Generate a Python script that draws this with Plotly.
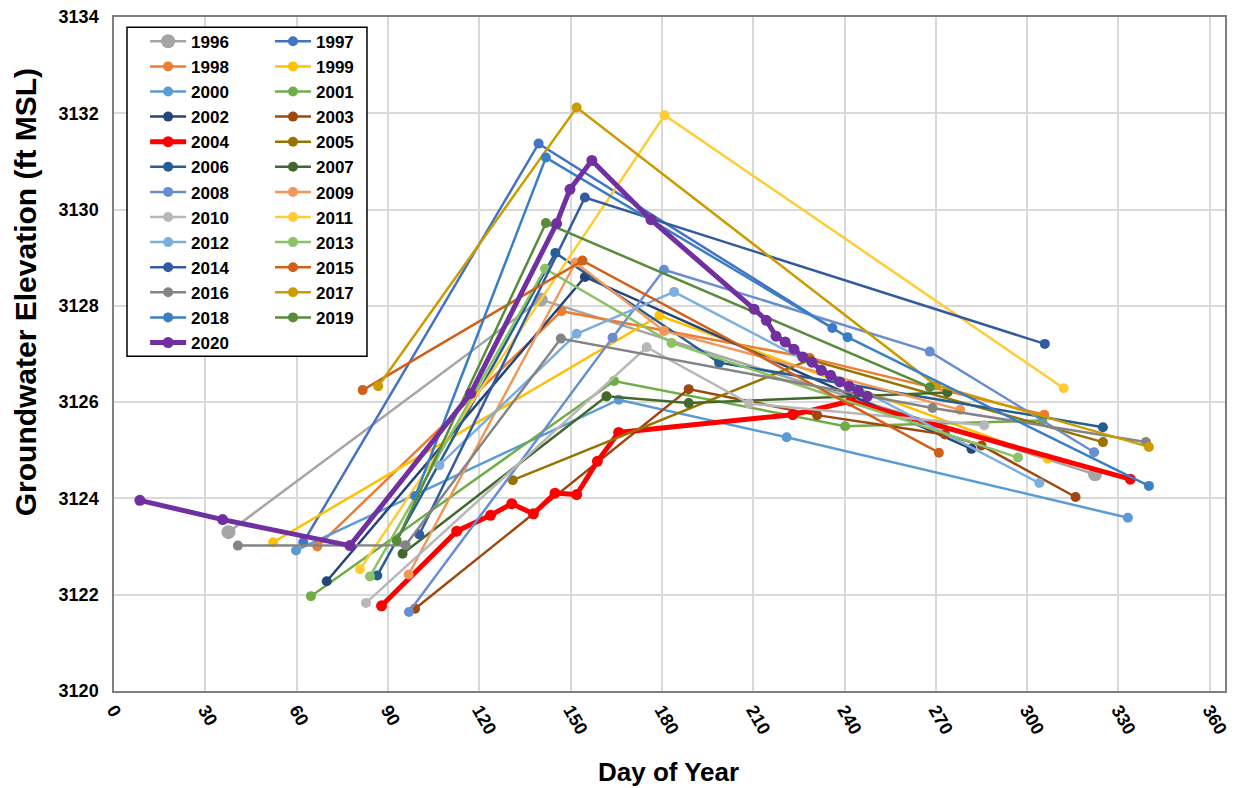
import plotly.graph_objects as go

# groundwater elevation (ft MSL) by day of year, one pair of lists per year
day_1996 = [37.6, 140.2, 322.3]
elev_1996 = [3123.30, 3128.13, 3124.50]
day_1997 = [62.2, 139.5, 236.0]
elev_1997 = [3123.09, 3131.37, 3127.54]
day_1998 = [66.8, 147.0, 228.6, 305.6]
elev_1998 = [3123.00, 3127.89, 3126.92, 3125.74]
day_1999 = [52.3, 179.2, 306.7]
elev_1999 = [3123.09, 3127.80, 3124.83]
day_2000 = [59.8, 165.8, 221.0, 333.1]
elev_2000 = [3122.92, 3126.05, 3125.27, 3123.60]
day_2001 = [64.7, 164.3, 240.2, 305.0]
elev_2001 = [3121.97, 3126.44, 3125.50, 3125.62]
day_2002 = [69.9, 154.7, 281.7]
elev_2002 = [3122.28, 3128.60, 3125.03]
day_2003 = [98.9, 188.8, 231.0, 273.0, 285.0, 315.9]
elev_2003 = [3121.71, 3126.27, 3125.73, 3125.33, 3125.10, 3124.03]
day_2004 = [87.9, 112.6, 123.7, 130.7, 137.8, 144.9, 152.0, 158.8, 165.8, 223.0, 242.0, 333.9]
elev_2004 = [3121.77, 3123.32, 3123.65, 3123.89, 3123.68, 3124.11, 3124.08, 3124.77,
             3125.37, 3125.74, 3126.02, 3124.40]
day_2005 = [131.0, 228.6, 324.9]
elev_2005 = [3124.38, 3126.88, 3125.17]
day_2006 = [86.5, 145.0, 198.8, 324.9]
elev_2006 = [3122.40, 3129.10, 3126.82, 3125.48]
day_2007 = [94.8, 161.8, 188.8, 273.8]
elev_2007 = [3122.85, 3126.12, 3125.98, 3126.20]
day_2008 = [96.9, 163.8, 180.7, 268.0, 322.0]
elev_2008 = [3121.64, 3127.34, 3128.75, 3127.05, 3124.96]
day_2009 = [96.8, 151.6, 180.7, 278.0]
elev_2009 = [3122.42, 3128.90, 3127.48, 3125.84]
day_2010 = [82.8, 175.0, 208.7, 285.9]
elev_2010 = [3121.83, 3127.14, 3125.97, 3125.52]
day_2011 = [80.8, 180.9, 312.0]
elev_2011 = [3122.53, 3131.96, 3126.29]
day_2012 = [106.9, 152.0, 184.0, 304.0]
elev_2012 = [3124.69, 3127.42, 3128.29, 3124.32]
day_2013 = [84.1, 141.6, 183.2, 297.0]
elev_2013 = [3122.38, 3128.77, 3127.23, 3124.85]
day_2014 = [100.3, 154.7, 305.8]
elev_2014 = [3123.25, 3130.25, 3127.21]
day_2015 = [81.7, 153.9, 271.0]
elev_2015 = [3126.25, 3128.94, 3124.95]
day_2016 = [40.7, 95.8, 146.8, 268.9, 339.0]
elev_2016 = [3123.02, 3123.03, 3127.32, 3125.88, 3125.17]
day_2017 = [86.8, 152.0, 270.0, 340.0]
elev_2017 = [3126.33, 3132.12, 3126.35, 3125.07]
day_2018 = [99.0, 141.9, 241.0, 340.0]
elev_2018 = [3124.05, 3131.08, 3127.35, 3124.26]
day_2019 = [92.9, 141.9, 268.0]
elev_2019 = [3123.12, 3129.72, 3126.31]
day_2020 = [8.5, 35.7, 77.5, 117.2, 145.4, 149.8, 157.0, 176.4, 210.3, 214.3, 217.5,
            220.5, 223.4, 226.3, 229.3, 232.4, 235.4, 238.5, 241.5, 244.5, 247.5]
elev_2020 = [3123.96, 3123.56, 3123.02, 3126.18, 3129.71, 3130.42, 3131.02, 3129.79,
             3127.93, 3127.70, 3127.37, 3127.25, 3127.10, 3126.94, 3126.83, 3126.66,
             3126.56, 3126.42, 3126.33, 3126.23, 3126.12]

years = ['1996', '1997', '1998', '1999', '2000', '2001', '2002', '2003', '2004',
         '2005', '2006', '2007', '2008', '2009', '2010', '2011', '2012', '2013',
         '2014', '2015', '2016', '2017', '2018', '2019', '2020']
colors = ['#A5A5A5', '#4472C4', '#ED7D31', '#FFC000', '#5B9BD5', '#70AD47',
          '#264478', '#9E480E', '#FF0000', '#997300', '#255E91', '#43682B',
          '#698ED0', '#F1975A', '#B7B7B7', '#FFCD33', '#7CAFDD', '#8CC168',
          '#335AA1', '#D0611A', '#848484', '#CC9B00', '#3A7FC4', '#588B3A',
          '#7030A0']

series = [
    (day_1996, elev_1996), (day_1997, elev_1997), (day_1998, elev_1998),
    (day_1999, elev_1999), (day_2000, elev_2000), (day_2001, elev_2001),
    (day_2002, elev_2002), (day_2003, elev_2003), (day_2004, elev_2004),
    (day_2005, elev_2005), (day_2006, elev_2006), (day_2007, elev_2007),
    (day_2008, elev_2008), (day_2009, elev_2009), (day_2010, elev_2010),
    (day_2011, elev_2011), (day_2012, elev_2012), (day_2013, elev_2013),
    (day_2014, elev_2014), (day_2015, elev_2015), (day_2016, elev_2016),
    (day_2017, elev_2017), (day_2018, elev_2018), (day_2019, elev_2019),
    (day_2020, elev_2020),
]

fig = go.Figure()

for i, (yr, col, (dd, ee)) in enumerate(zip(years, colors, series)):
    lw, ms = 2.5, 10
    if yr in ('2004', '2020'):
        lw, ms = 5, 11
    if yr == '1996':
        ms = 14
    fig.add_trace(go.Scatter(
        x=dd, y=ee, name=yr, mode='lines+markers',
        line=dict(color=col, width=lw),
        marker=dict(color=col, size=ms),
        # two legend boxes side by side give the 2-column legend
        legend='legend' if i % 2 == 0 else 'legend2',
    ))

leg_font = dict(family='Arial', size=17, color='black', weight='bold')

# the page body adds an 8px offset, so the figure is 8px smaller each way
fig.update_layout(
    width=1242, height=780,
    margin=dict(l=106, r=25, t=9, b=97),
    paper_bgcolor='white', plot_bgcolor='white',
    font=dict(family='Arial', color='black'),
    legend=dict(x=0.028, y=0.990, xanchor='left', yanchor='top',
                bgcolor='rgba(0,0,0,0)', borderwidth=0, font=leg_font,
                itemwidth=36, tracegroupgap=0),
    legend2=dict(x=0.1404, y=0.990, xanchor='left', yanchor='top',
                 bgcolor='rgba(0,0,0,0)', borderwidth=0, font=leg_font,
                 itemwidth=36, tracegroupgap=0),
    xaxis=dict(range=[0, 365], tick0=0, dtick=30, tickangle=60,
               showgrid=True, gridcolor='#D9D9D9', gridwidth=1.5,
               showline=True, linecolor='#7F7F7F', linewidth=1.5, mirror=True,
               zeroline=False, ticks='', automargin=False,
               tickfont=dict(family='Arial', size=18, color='black', weight='bold')),
    yaxis=dict(range=[3120, 3134], dtick=2, tickformat='d',
               showgrid=True, gridcolor='#D9D9D9', gridwidth=1.5,
               showline=True, linecolor='#7F7F7F', linewidth=1.5, mirror=True,
               zeroline=False, ticks='', ticklabelstandoff=10, automargin=False,
               ticklabeloverflow='allow',
               tickfont=dict(family='Arial', size=18, color='black', weight='bold')),
    shapes=[dict(type='rect', xref='paper', yref='paper', layer='above',
                 x0=0.0117, x1=0.2277, y0=0.4966, y1=0.9847,
                 line=dict(color='black', width=1.5), fillcolor='white')],
    annotations=[
        dict(text='Day of Year', xref='paper', yref='paper', x=0.4995, y=-0.1206,
             showarrow=False, xanchor='center', yanchor='middle',
             font=dict(family='Arial', size=26, color='black', weight='bold')),
        dict(text='Groundwater Elevation (ft MSL)', xref='paper', yref='paper',
             x=-0.0801, y=0.5916, textangle=-90, showarrow=False,
             xanchor='center', yanchor='middle',
             font=dict(family='Arial', size=30, color='black', weight='bold')),
    ],
)

fig.write_html("out.html")
